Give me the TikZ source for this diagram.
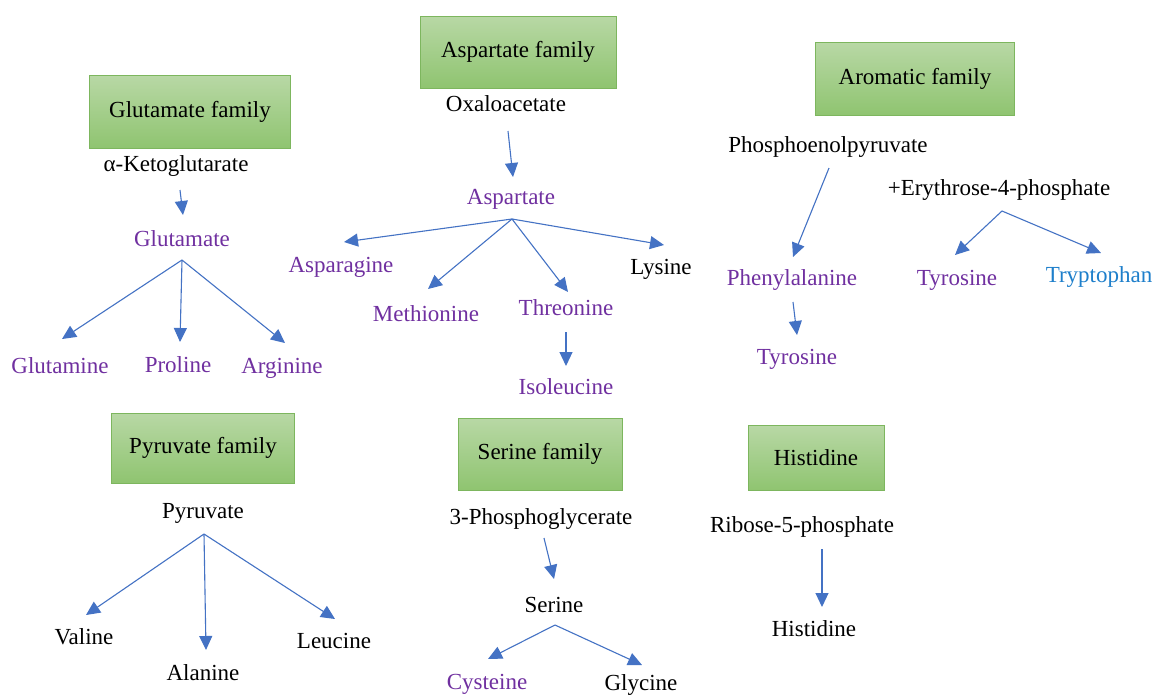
\documentclass[tikz,border=0pt]{standalone}
\usepackage{fontspec}
\setmainfont{Liberation Serif}
\usetikzlibrary{arrows.meta}
\definecolor{boxtop}{HTML}{B8D8A5}
\definecolor{boxbot}{HTML}{8FC470}
\definecolor{boxline}{HTML}{7DB65E}
\definecolor{purp}{HTML}{7030A0}
\definecolor{arrblue}{HTML}{4472C4}
\definecolor{tblue}{HTML}{1E7FCB}
\tikzset{
  famBox/.style={draw=boxline, line width=1pt, top color=boxtop, bottom color=boxbot, inner sep=0pt, text=black},
  lbl/.style={inner sep=0pt, text=black},
  plbl/.style={inner sep=0pt, text=purp},
  blbl/.style={inner sep=0pt, text=tblue},
  arr/.style={draw=arrblue, line width=1.1pt, -{Triangle[length=14pt,width=13pt]}},
}
\begin{document}
\begin{tikzpicture}[x=1pt,y=-1pt,font=\fontsize{23}{27}\selectfont]
\useasboundingbox[fill=white] (0,0) rectangle (1154,694);
% family boxes
\node[famBox, minimum width=201pt, minimum height=73pt] (bglu) at (190,112) {Glutamate family};
\node[famBox, minimum width=196pt, minimum height=72pt] (basp) at (518,52) {Aspartate family};
\node[famBox, minimum width=199pt, minimum height=73pt] (barom) at (915,79) {Aromatic family};
\node[famBox, minimum width=183pt, minimum height=70pt] (bpyr) at (203,448) {Pyruvate family};
\node[famBox, minimum width=164pt, minimum height=72pt] (bser) at (540,454) {Serine family};
\node[famBox, minimum width=136pt, minimum height=65pt] (bhis) at (816,458) {Histidine};
% glutamate family
\node[lbl] (akg) at (176,166) {α-Ketoglutarate};
\node[plbl] (glu) at (182,239) {Glutamate};
\node[plbl] (gln) at (60,366) {Glutamine};
\node[plbl] (pro) at (178,365) {Proline};
\node[plbl] (arg) at (282,368) {Arginine};
\coordinate (akg-o) at (180,190);
\coordinate (glu-i) at (183,215);
\coordinate (glu-o) at (182,260);
\coordinate (gln-i) at (62,339);
\coordinate (pro-i) at (180,342);
\coordinate (arg-i) at (285,343);
\draw[arr] (akg-o) -- (glu-i);
\draw[arr] (glu-o) -- (gln-i);
\draw[arr] (glu-o) -- (pro-i);
\draw[arr] (glu-o) -- (arg-i);
% aspartate family
\node[lbl] (oxa) at (506,104) {Oxaloacetate};
\node[plbl] (asp) at (511,199) {Aspartate};
\node[plbl] (asn) at (341,267) {Asparagine};
\node[plbl] (met) at (426,314) {Methionine};
\node[plbl] (thr) at (566,308) {Threonine};
\node[lbl] (lys) at (661,269) {Lysine};
\node[plbl] (ile) at (566,387) {Isoleucine};
\coordinate (oxa-o) at (508,131);
\coordinate (asp-i) at (513,177);
\coordinate (asp-o) at (512,219);
\coordinate (asn-i) at (344,242);
\coordinate (met-i) at (428,289);
\coordinate (thr-i) at (568,292);
\coordinate (lys-i) at (664,245);
\coordinate (thr-o) at (566,332);
\coordinate (ile-i) at (566,366);
\draw[arr] (oxa-o) -- (asp-i);
\draw[arr] (asp-o) -- (asn-i);
\draw[arr] (asp-o) -- (met-i);
\draw[arr] (asp-o) -- (thr-i);
\draw[arr] (asp-o) -- (lys-i);
\draw[arr] (thr-o) -- (ile-i);
% aromatic family
\node[lbl] (pep) at (828,147) {Phosphoenolpyruvate};
\node[lbl] (e4p) at (999,190) {+Erythrose-4-phosphate};
\node[plbl] (phe) at (792,280) {Phenylalanine};
\node[plbl] (tyr1) at (957,280) {Tyrosine};
\node[blbl] (trp) at (1099,277) {Tryptophan};
\node[plbl] (tyr2) at (797,359) {Tyrosine};
\coordinate (pep-o) at (829,168);
\coordinate (phe-i) at (793,257);
\coordinate (phe-o) at (793,302);
\coordinate (tyr2-i) at (797,335);
\coordinate (e4p-o) at (1002,211);
\coordinate (tyr1-i) at (955,255);
\coordinate (trp-i) at (1101,253);
\draw[arr] (pep-o) -- (phe-i);
\draw[arr] (phe-o) -- (tyr2-i);
\draw[arr] (e4p-o) -- (tyr1-i);
\draw[arr] (e4p-o) -- (trp-i);
% pyruvate family
\node[lbl] (pyr) at (203,513) {Pyruvate};
\node[lbl] (val) at (84,637) {Valine};
\node[lbl] (ala) at (203,673) {Alanine};
\node[lbl] (leu) at (334,641) {Leucine};
\coordinate (pyr-o) at (204,534);
\coordinate (val-i) at (86,615);
\coordinate (ala-i) at (206,650);
\coordinate (leu-i) at (335,619);
\draw[arr] (pyr-o) -- (val-i);
\draw[arr] (pyr-o) -- (ala-i);
\draw[arr] (pyr-o) -- (leu-i);
% serine family
\node[lbl] (pga) at (541,519) {3-Phosphoglycerate};
\node[lbl] (ser) at (554,605) {Serine};
\node[plbl] (cys) at (487,684) {Cysteine};
\node[lbl] (gly) at (641,685) {Glycine};
\coordinate (pga-o) at (544,538);
\coordinate (ser-i) at (554,579);
\coordinate (ser-o) at (555,625);
\coordinate (cys-i) at (488,659);
\coordinate (gly-i) at (642,665);
\draw[arr] (pga-o) -- (ser-i);
\draw[arr] (ser-o) -- (cys-i);
\draw[arr] (ser-o) -- (gly-i);
% histidine
\node[lbl] (r5p) at (802,527) {Ribose-5-phosphate};
\node[lbl] (his) at (814,629) {Histidine};
\coordinate (r5p-o) at (822,549);
\coordinate (his-i) at (822,607);
\draw[arr] (r5p-o) -- (his-i);
\end{tikzpicture}
\end{document}
